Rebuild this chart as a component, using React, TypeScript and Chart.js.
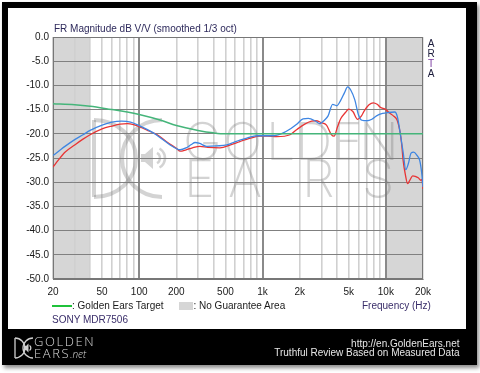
import React, { useEffect, useRef } from 'react';
import { Chart, registerables } from 'chart.js';

Chart.register(...registerables);

// ---------- data ----------
const targetFreq = [20, 30, 40, 60, 80, 100, 150, 200, 300, 400, 500, 1000, 5000, 20000];
const targetDb = [-13.8, -14.0, -14.3, -15.0, -15.5, -16.0, -17.2, -18.3, -19.3, -19.8, -20.0, -20.0, -20.0, -20.0];

const blueFreq = [20, 23, 25, 30, 35, 40, 50, 60, 72, 85, 100, 130, 150, 178, 215, 240, 265, 284, 310, 353, 425, 513, 580, 655, 746, 900, 1000, 1220, 1470, 1700, 1880, 2130, 2350, 2700, 2900, 3200, 3400, 3700, 4000, 4300, 4600, 4900, 5200, 5600, 6000, 6400, 7000, 7700, 8400, 9400, 10500, 11800, 12400, 13000, 13800, 14500, 15200, 16000, 16800, 17800, 18800, 19500, 20000];
const blueDb = [-24.5, -23.3, -22.6, -21.2, -20.2, -19.3, -18.2, -17.6, -17.4, -17.6, -18.3, -19.8, -20.9, -22.3, -23.3, -22.9, -22.2, -21.8, -22.0, -22.6, -22.5, -22.3, -21.8, -21.3, -20.9, -20.4, -20.4, -20.4, -19.8, -18.9, -18.1, -16.9, -16.8, -17.4, -17.9, -17.1, -16.3, -13.9, -14.2, -13.1, -11.6, -10.3, -11.0, -13.0, -16.1, -17.2, -17.3, -17.0, -16.3, -15.8, -15.6, -15.5, -16.5, -19.5, -23.8, -27.4, -26.2, -24.0, -23.8, -24.4, -25.5, -28.0, -31.0];

const redFreq = [20, 22, 25, 30, 35, 40, 50, 60, 70, 80, 90, 100, 120, 140, 170, 200, 215, 240, 270, 311, 360, 452, 550, 655, 800, 950, 1100, 1300, 1670, 1900, 2200, 2500, 2700, 3000, 3300, 3600, 3800, 4050, 4300, 4700, 5000, 5400, 5900, 6300, 6700, 7300, 7900, 8500, 9000, 10000, 10700, 11500, 12300, 13000, 13400, 13800, 14400, 15000, 15700, 16500, 17300, 18300, 19200, 19600, 20000];
const redDb = [-26.9, -25.5, -23.8, -22.3, -21.1, -20.2, -19.0, -18.4, -18.0, -17.9, -18.1, -18.5, -19.4, -20.2, -21.8, -23.0, -23.6, -23.3, -22.9, -22.6, -22.8, -22.9, -22.3, -21.6, -20.9, -20.5, -20.5, -20.6, -20.2, -19.1, -18.0, -17.4, -17.3, -17.7, -18.2, -20.1, -20.5, -18.6, -16.9, -15.6, -14.9, -15.4, -17.0, -16.4, -15.2, -14.0, -13.6, -13.9, -14.5, -15.0, -15.7, -16.3, -17.1, -19.5, -21.9, -25.5, -28.5, -30.3, -29.5, -28.7, -28.8, -29.1, -29.6, -29.4, -31.4];

const xGridValues = [20, 30, 40, 50, 60, 70, 80, 90, 100, 200, 300, 400, 500, 600, 700, 800, 900, 1000, 2000, 3000, 4000, 5000, 6000, 7000, 8000, 9000, 10000, 20000];
const xLabelValues = [20, 50, 100, 200, 500, 1000, 2000, 5000, 10000, 20000];
const xLabelTexts = ['20', '50', '100', '200', '500', '1k', '2k', '5k', '10k', '20k'];
const yMin = -50;
const yMax = 0;
const yStep = 5;
const noGuaranteeFrom = [20, 10000];
const noGuaranteeTo = [40, 20000];

const FONT = '"Liberation Sans", Arial, Helvetica, sans-serif';
const BLUE = '#3f86e2';
const RED = '#e83434';
const GREEN = '#45b57a';

const toPoints = (xs: number[], ys: number[]) => xs.map((x, i) => ({ x, y: ys[i] }));

const isDecade = (v: number) => v === 100 || v === 1000 || v === 10000;

const backgroundPlugin = {
  id: 'bands',
  beforeDraw(chart: any) {
    const { ctx, chartArea } = chart;
    const xs = chart.scales.x;
    ctx.save();
    ctx.fillStyle = '#d6d6d6';
    for (let i = 0; i < noGuaranteeFrom.length; i++) {
      const a = xs.getPixelForValue(noGuaranteeFrom[i]);
      const b = xs.getPixelForValue(noGuaranteeTo[i]);
      ctx.fillRect(a, chartArea.top, b - a, chartArea.bottom - chartArea.top);
    }
    ctx.restore();
  },
};

const watermarkPlugin = {
  id: 'watermark',
  beforeDatasetsDraw(chart: any) {
    const { ctx, chartArea } = chart;
    ctx.save();
    ctx.beginPath();
    ctx.rect(chartArea.left, chartArea.top, chartArea.right - chartArea.left, chartArea.bottom - chartArea.top);
    ctx.clip();
    const col = 'rgba(120,120,120,0.33)';
    ctx.fillStyle = col;
    ctx.strokeStyle = col;
    ctx.font = '200 52px Inter, "Liberation Sans", sans-serif';
    ctx.textBaseline = 'alphabetic';
    ctx.textAlign = 'left';
    const g = ['G', 'O', 'L', 'D', 'E', 'N'];
    const gx = [175, 215, 258, 287, 324, 351];
    g.forEach((c, i) => ctx.fillText(c, gx[i], 152));
    const e = ['E', 'A', 'R', 'S'];
    const ex = [176, 220, 294, 354];
    e.forEach((c, i) => ctx.fillText(c, ex[i], 189));
    // logo: D + C with speaker
    ctx.lineWidth = 4;
    ctx.beginPath();
    ctx.moveTo(86, 112);
    ctx.lineTo(86, 189);
    ctx.stroke();
    ctx.beginPath();
    ctx.ellipse(86, 150.5, 42, 38.5, 0, -Math.PI / 2, Math.PI / 2);
    ctx.stroke();
    ctx.beginPath();
    ctx.ellipse(154, 150.5, 40, 38.5, 0, Math.PI / 2, (3 * Math.PI) / 2);
    ctx.stroke();
    ctx.beginPath();
    ctx.moveTo(133, 146);
    ctx.lineTo(137, 146);
    ctx.lineTo(145, 139);
    ctx.lineTo(145, 161);
    ctx.lineTo(137, 154);
    ctx.lineTo(133, 154);
    ctx.closePath();
    ctx.fill();
    ctx.lineWidth = 2.5;
    ctx.beginPath();
    ctx.arc(146, 150, 6, -Math.PI / 3, Math.PI / 3);
    ctx.stroke();
    ctx.beginPath();
    ctx.arc(146, 150, 11, -Math.PI / 3, Math.PI / 3);
    ctx.stroke();
    ctx.restore();
    // frame
    ctx.save();
    ctx.strokeStyle = '#777';
    ctx.lineWidth = 1;
    ctx.strokeRect(chartArea.left + 0.5, chartArea.top + 0.5, chartArea.right - chartArea.left - 1, chartArea.bottom - chartArea.top - 1);
    ctx.restore();
  },
};

function FrChart() {
  const ref = useRef<HTMLCanvasElement>(null);
  useEffect(() => {
    if (!ref.current) return;
    const chart = new Chart(ref.current, {
      type: 'line',
      data: {
        datasets: [
          { label: 'Golden Ears Target', data: toPoints(targetFreq, targetDb), borderColor: GREEN, borderWidth: 1.5, pointRadius: 0, cubicInterpolationMode: 'monotone' },
          { label: 'Left', data: toPoints(blueFreq, blueDb), borderColor: BLUE, borderWidth: 1.3, pointRadius: 0, cubicInterpolationMode: 'monotone' },
          { label: 'Right', data: toPoints(redFreq, redDb), borderColor: RED, borderWidth: 1.3, pointRadius: 0, cubicInterpolationMode: 'monotone' },
        ],
      },
      options: {
        animation: false,
        responsive: false,
        maintainAspectRatio: false,
        events: [],
        layout: { padding: { left: 5, right: 43, top: 29, bottom: 30 } },
        plugins: { legend: { display: false }, tooltip: { enabled: false }, title: { display: false } },
        scales: {
          x: {
            type: 'logarithmic',
            min: 20,
            max: 20000,
            afterBuildTicks: (scale: any) => {
              scale.ticks = xGridValues.map((v) => ({ value: v }));
            },
            afterFit: (scale: any) => {
              scale.height = 20;
            },
            ticks: {
              autoSkip: false,
              maxRotation: 0,
              minRotation: 0,
              padding: 7,
              color: '#1a1a1a',
              font: { family: FONT, size: 10 },
              callback: (v: any) => {
                const i = xLabelValues.indexOf(Number(v));
                return i >= 0 ? xLabelTexts[i] : '';
              },
            },
            grid: {
              drawTicks: false,
              color: (c: any) => (c.tick && isDecade(c.tick.value) ? '#8a8a8a' : '#d0d0d0'),
              lineWidth: (c: any) => (c.tick && isDecade(c.tick.value) ? 2 : 1.6),
            },
            border: { display: true, color: '#777' },
          },
          y: {
            min: yMin,
            max: yMax,
            afterFit: (scale: any) => {
              scale.width = 40;
            },
            ticks: {
              stepSize: yStep,
              padding: 4,
              color: '#1a1a1a',
              font: { family: FONT, size: 10 },
              callback: (v: any) => Number(v).toFixed(1),
            },
            grid: { drawTicks: false, color: '#808080', lineWidth: 1 },
            border: { display: true, color: '#777' },
          },
        },
      },
      plugins: [backgroundPlugin, watermarkPlugin],
    } as any);
    return () => chart.destroy();
  }, []);
  return <canvas ref={ref} width={458} height={321} style={{ position: 'absolute', left: 8, top: 8, width: 458, height: 321 }} />;
}

const txt = (extra: React.CSSProperties): React.CSSProperties => ({
  position: 'absolute',
  fontFamily: FONT,
  fontSize: 10,
  lineHeight: '12px',
  whiteSpace: 'nowrap',
  ...extra,
});

export default function App() {
  return (
    <div style={{ position: 'fixed', left: 0, top: 0, width: 480, height: 373, background: '#fff', overflow: 'hidden' }}>
      <div style={{ position: 'absolute', left: 2, top: 2, width: 475, height: 363, background: '#000', boxShadow: '2px 3px 4px rgba(0,0,0,0.45)' }} />
      <div style={{ position: 'absolute', left: 8, top: 8, width: 458, height: 321, background: '#fff' }} />
      <FrChart />
      <div style={txt({ left: 54, top: 23, color: '#2e2a5c' })}>FR Magnitude dB V/V (smoothed 1/3 oct)</div>
      <div style={txt({ left: 426, top: 37.5, width: 10, textAlign: 'center', color: '#1a1a3a' })}>A</div>
      <div style={txt({ left: 426, top: 47.5, width: 10, textAlign: 'center', color: '#1a1a3a' })}>R</div>
      <div style={txt({ left: 426, top: 57.5, width: 10, textAlign: 'center', color: '#7a3aa0' })}>T</div>
      <div style={txt({ left: 426, top: 68, width: 10, textAlign: 'center', color: '#1a1a3a' })}>A</div>
      <div style={{ position: 'absolute', left: 52, top: 305, width: 20, height: 2, background: '#1fc23a' }} />
      <div style={txt({ left: 72, top: 300, color: '#1a1a1a' })}>: Golden Ears Target</div>
      <div style={{ position: 'absolute', left: 179, top: 302, width: 14, height: 8, background: '#d6d6d6' }} />
      <div style={txt({ left: 193.5, top: 300, color: '#1a1a1a' })}>: No Guarantee Area</div>
      <div style={txt({ left: 362, top: 300, color: '#3a2e6a' })}>Frequency (Hz)</div>
      <div style={txt({ left: 52, top: 314, color: '#3a2e6a' })}>SONY MDR7506</div>
      <svg style={{ position: 'absolute', left: 0, top: 0 }} width={480} height={373}>
        <g fill="none" stroke="#cfcfcf" strokeWidth={1.3}>
          <line x1={15} y1={338} x2={15} y2={358} />
          <path d="M15 338 A10 10 0 0 1 15 358" />
          <path d="M33 338 A10 10 0 0 0 33 358" />
          <path d="M29.5 345.5 A3 3 0 0 1 29.5 350.5" />
        </g>
        <path d="M24 346 L26 346 L28.5 343.5 L28.5 352.5 L26 350 L24 350 Z" fill="#cfcfcf" />
      </svg>
      <div style={{ position: 'absolute', left: 34, top: 335, fontFamily: '"Open Sans", "Liberation Sans", sans-serif', fontWeight: 300, fontSize: 13, lineHeight: '13px', letterSpacing: 1.6, color: '#d8d8d8', whiteSpace: 'nowrap' }}>GOLDEN</div>
      <div style={{ position: 'absolute', left: 34, top: 347, fontFamily: '"Open Sans", "Liberation Sans", sans-serif', fontWeight: 300, fontSize: 13, lineHeight: '13px', letterSpacing: 1.6, color: '#d8d8d8', whiteSpace: 'nowrap' }}>
        EARS<span style={{ fontSize: 10, fontStyle: 'italic', letterSpacing: 0 }}>.net</span>
      </div>
      <div style={txt({ right: 480 - 459.5, top: 337.5, color: '#e6e6e6', textAlign: 'right' })}>http://en.GoldenEars.net</div>
      <div style={txt({ right: 480 - 459.5, top: 347, color: '#e6e6e6', textAlign: 'right' })}>Truthful Review Based on Measured Data</div>
    </div>
  );
}
